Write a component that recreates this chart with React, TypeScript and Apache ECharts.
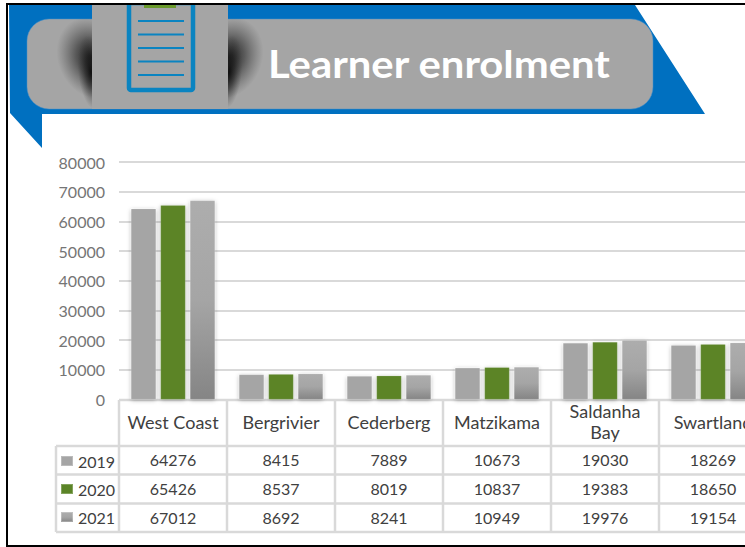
import React, { useEffect, useRef } from "react";
import * as echarts from "echarts";

const categories = ["West Coast", "Bergrivier", "Cederberg", "Matzikama", "Saldanha\nBay", "Swartland"];
const years = ["2019", "2020", "2021"];
const values2019 = [64276, 8415, 7889, 10673, 19030, 18269];
const values2020 = [65426, 8537, 8019, 10837, 19383, 18650];
const values2021 = [67012, 8692, 8241, 10949, 19976, 19154];
const title = "Learner enrolment";

const FONT = "Lato";
const rows = [values2019, values2020, values2021];
const rowY = [446, 474.5, 503.5, 532];
const colX = [119, 227, 335, 443, 551, 659, 767];
const LINE = "#d9d9d9";

const line = (x1: number, y1: number, x2: number, y2: number) => ({
  type: "line", shape: { x1, y1, x2, y2 }, style: { stroke: LINE, lineWidth: 2.5 }, z: 1,
});

const glow = (cx: number, cy: number, rx: number, ry: number, rotation: number, alpha: number) => ({
  type: "ellipse", x: cx, y: cy, rotation,
  shape: { cx: 0, cy: 0, rx, ry },
  style: {
    fill: {
      type: "radial", x: 0.5, y: 0.5, r: 0.5,
      colorStops: [
        { offset: 0, color: `rgba(15,15,15,${alpha})` },
        { offset: 0.45, color: `rgba(30,30,30,${alpha * 0.6})` },
        { offset: 1, color: "rgba(60,60,60,0)" },
      ],
    },
  },
  z: 4,
});

export default function App() {
  const ref = useRef<HTMLDivElement>(null);
  useEffect(() => {
    document.body.style.margin = "0";
    document.body.style.background = "#fff";
    const chart = echarts.init(ref.current!, null, { renderer: "svg" });
    const graphic: any[] = [
      { type: "rect", shape: { x: 7, y: 3.5, width: 760, height: 542.5 }, style: { fill: "none", stroke: "#000", lineWidth: 2 }, z: 0 },
      { type: "polygon", shape: { points: [[9, 5], [635, 5], [705, 114], [42, 114], [42, 148], [10, 113]] }, style: { fill: "#0070c0" }, z: 2 },
      { type: "rect", shape: { x: 27, y: 19, width: 626, height: 90, r: 22 }, style: { fill: "#a5a5a5", stroke: "#4a90c8", lineWidth: 0.5 }, z: 3 },
      glow(92, 58, 34, 42, 0.42, 0.95),
      glow(228, 58, 34, 42, -0.42, 0.95),
      glow(91, 72, 13, 37, 0.1, 1),
      glow(229, 72, 13, 37, -0.1, 1),
      { type: "rect", shape: { x: 92, y: 5, width: 136, height: 104 }, style: { fill: "#a5a5a5" }, z: 5 },
      { type: "rect", shape: { x: 129, y: 3, width: 64, height: 87, r: 2 }, style: { fill: "none", stroke: "#0a84c1", lineWidth: 4.5 }, z: 6 },
      { type: "rect", shape: { x: 0, y: 0, width: 800, height: 3 }, style: { fill: "#fff" }, z: 7 },
      { type: "rect", shape: { x: 7, y: 3, width: 793, height: 2 }, style: { fill: "#000" }, z: 7 },
      { type: "rect", shape: { x: 144, y: 5, width: 32, height: 3 }, style: { fill: "#6a9a2c" }, z: 7 },
      ...[21, 34.5, 48, 61.5, 75].map((y) => ({
        type: "line", shape: { x1: 138, y1: y, x2: 184, y2: y }, style: { stroke: "#0a84c1", lineWidth: 2 }, z: 6,
      })),
      {
        type: "text", x: 268, y: 45, scaleX: 1.1, z: 8,
        style: {
          text: title, fill: "#fff", font: `bold 38px ${FONT}`,
          shadowColor: "rgba(60,30,0,0.75)", shadowBlur: 2, shadowOffsetX: 2, shadowOffsetY: 2,
        },
      },
      ...colX.map((x) => line(x, 400, x, 532)),
      line(119, 400, 767, 400),
      ...rowY.map((y) => line(56, y, 767, y)),
      line(56, rowY[0], 56, rowY[3]),
    ];
    const colors: any[] = [
      "#a5a5a5",
      "#5b8427",
      { type: "linear", x: 0, y: 0, x2: 0, y2: 1, colorStops: [{ offset: 0, color: "#adadad" }, { offset: 0.5, color: "#a5a5a5" }, { offset: 1, color: "#858585" }] },
    ];
    const tableAxes = rows.map((r, i) => ({
      type: "category", data: r.map(String), gridIndex: 0, position: "bottom",
      offset: (rowY[i] + rowY[i + 1]) / 2 - 399.5 - 8.5,
      axisLine: { show: false }, axisTick: { show: false },
      axisLabel: { interval: 0, margin: 0, color: "#404040", fontFamily: FONT, fontSize: 16 },
    }));
    chart.setOption({
      animation: false,
      backgroundColor: "#fff",
      grid: { left: 119, top: 162, width: 648, height: 237.5 },
      legend: {
        orient: "vertical", left: 60, top: 453, padding: 0, itemWidth: 12, itemHeight: 10, itemGap: 12, data: years,
        icon: "rect", textStyle: { color: "#404040", fontFamily: FONT, fontSize: 16 },
      },
      xAxis: [
        {
          type: "category", data: categories, position: "bottom",
          axisLine: { show: false }, axisTick: { show: false },
          axisLabel: { interval: 0, margin: 22, color: "#404040", fontFamily: FONT, fontSize: 18, lineHeight: 21, verticalAlign: "middle", align: "center" },
        },
        ...tableAxes,
      ],
      yAxis: {
        type: "value", min: 0, max: 80000, interval: 10000,
        axisLine: { show: false }, axisTick: { show: false },
        axisLabel: { color: "#757575", fontFamily: FONT, fontSize: 16, margin: 14, padding: [0, 0, 2, 0], formatter: (v: number) => String(v) },
        splitLine: { lineStyle: { color: LINE, width: 2 } },
      },
      series: years.map((y, i) => ({
        name: y, type: "bar", data: rows[i], barWidth: 25, barGap: "18%", z: 3,
        itemStyle: { color: colors[i], shadowColor: "rgba(0,0,0,0.3)", shadowBlur: 4, shadowOffsetY: 1, borderColor: "rgba(255,255,255,0.25)", borderWidth: 0.5 },
      })),
      graphic,
    });
    return () => chart.dispose();
  }, []);
  return (
    <div style={{ position: "fixed", left: 0, top: 0, width: 745, height: 547, overflow: "hidden" }}>
      <div ref={ref} style={{ width: 800, height: 547 }} />
    </div>
  );
}
